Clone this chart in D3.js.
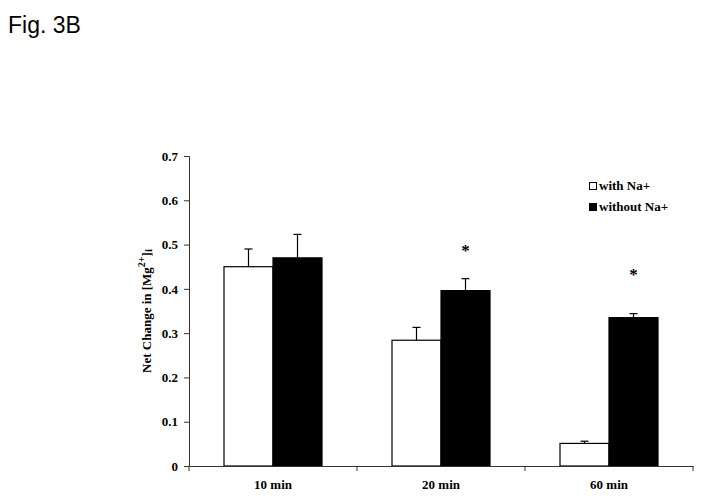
<!DOCTYPE html>
<html>
<head>
<meta charset="utf-8">
<script src="https://cdn.jsdelivr.net/npm/d3@7"></script>
<style>
  body { margin: 0; background: #fff; }
  svg text { font-family: "Liberation Serif", "Times New Roman", serif; font-weight: bold; fill: #000; }
  .fig { font-family: "Liberation Sans", Arial, sans-serif; font-weight: normal; }
</style>
</head>
<body>
<svg width="702" height="500"></svg>
<script>
var times = ["10 min", "20 min", "60 min"],
    series = ["with Na+", "without Na+"],
    withNa = [0.45, 0.284, 0.051],
    withNaErr = [0.04, 0.029, 0.005],
    withoutNa = [0.47, 0.396, 0.335],
    withoutNaErr = [0.053, 0.027, 0.009],
    starAt = [null, 0.495, 0.44],
    yTicks = [0, 0.1, 0.2, 0.3, 0.4, 0.5, 0.6, 0.7]

var margin = { left: 189, top: 156, right: 9, bottom: 34 },
    width = 693 - 189,
    height = 466 - 156

var svg = d3.select("svg")

svg.append("text").attr("class", "fig")
    .attr("x", 8).attr("y", 33)
    .style("font-size", "23px")
    .text("Fig. 3B")

var g = svg.append("g")
    .attr("transform", "translate(" + margin.left + "," + margin.top + ")")

var x0 = d3.scaleBand().domain(times).range([0, width]).paddingInner(0).paddingOuter(0)
var x1 = d3.scaleBand().domain(series).range([35, x0.bandwidth() - 35])
var y = d3.scaleLinear().domain([0, 0.7]).range([height, 0])

var rows = times.map(function(t, i) {
    return [
        { t: t, s: series[0], v: withNa[i], e: withNaErr[i], fill: "#fff" },
        { t: t, s: series[1], v: withoutNa[i], e: withoutNaErr[i], fill: "#000" }
    ]
})
var bars = [].concat.apply([], rows)

function cx(d) { return x0(d.t) + x1(d.s) + x1.bandwidth() / 2 }

// error bars (upper only)
var eb = g.selectAll(".err").data(bars).enter().append("g").attr("class", "err")
eb.append("line")
    .attr("x1", cx).attr("x2", cx)
    .attr("y1", function(d) { return y(d.v) })
    .attr("y2", function(d) { return y(d.v + d.e) })
    .attr("stroke", "#000").attr("stroke-width", 1.2)
eb.append("line")
    .attr("x1", function(d) { return cx(d) - 4 })
    .attr("x2", function(d) { return cx(d) + 4 })
    .attr("y1", function(d) { return y(d.v + d.e) })
    .attr("y2", function(d) { return y(d.v + d.e) })
    .attr("stroke", "#000").attr("stroke-width", 1.2)

g.selectAll("rect.bar").data(bars).enter().append("rect").attr("class", "bar")
    .attr("x", function(d) { return x0(d.t) + x1(d.s) })
    .attr("y", function(d) { return y(d.v) })
    .attr("width", x1.bandwidth())
    .attr("height", function(d) { return height - y(d.v) })
    .attr("fill", function(d) { return d.fill })
    .attr("stroke", "#000").attr("stroke-width", 1.2)

// significance stars
g.selectAll(".star").data(times.filter(function(t, i) { return starAt[i] != null })).enter()
    .append("text").attr("class", "star")
    .attr("x", function(t) { return x0(t) + x1(series[1]) + x1.bandwidth() / 2 })
    .attr("y", function(t) { return y(starAt[times.indexOf(t)]) + 9 })
    .attr("text-anchor", "middle")
    .style("font-size", "17px")
    .text("*")

// axes
var yAxis = d3.axisLeft(y).tickValues(yTicks).tickSize(5).tickPadding(6)
    .tickFormat(function(d) { return d === 0 ? "0" : d3.format(".1f")(d) })
var ya = g.append("g").call(yAxis)
ya.selectAll("text").style("font-size", "13px")
ya.selectAll("line, path").attr("stroke", "#333")

var xAxis = d3.axisBottom(x0).tickSize(0).tickPadding(14)
var xa = g.append("g").attr("transform", "translate(0," + height + ")").call(xAxis)
xa.selectAll("text").style("font-size", "13px")
xa.select("path").attr("stroke", "#333")
xa.selectAll(".sep").data(d3.range(times.length + 1)).enter().append("line")
    .attr("class", "sep")
    .attr("x1", function(i) { return i * x0.bandwidth() })
    .attr("x2", function(i) { return i * x0.bandwidth() })
    .attr("y1", 0).attr("y2", 5)
    .attr("stroke", "#333")

g.append("text")
    .attr("transform", "translate(-38," + (height / 2) + ") rotate(-90)")
    .attr("text-anchor", "middle")
    .style("font-size", "13px")
    .html('Net Change in [Mg<tspan dy="-6" font-size="10px">2+</tspan><tspan dy="6">]</tspan><tspan dy="1" font-size="11px">i</tspan>')

// legend
var leg = svg.append("g").attr("transform", "translate(589,182)")
series.forEach(function(s, i) {
    leg.append("rect").attr("x", 0.5).attr("y", i * 21 + 0.5)
        .attr("width", 7).attr("height", 7)
        .attr("fill", i === 0 ? "#fff" : "#000").attr("stroke", "#000")
    leg.append("text").attr("x", 10).attr("y", i * 21 + 8)
        .style("font-size", "13px").text(s)
})
</script>
</body>
</html>
